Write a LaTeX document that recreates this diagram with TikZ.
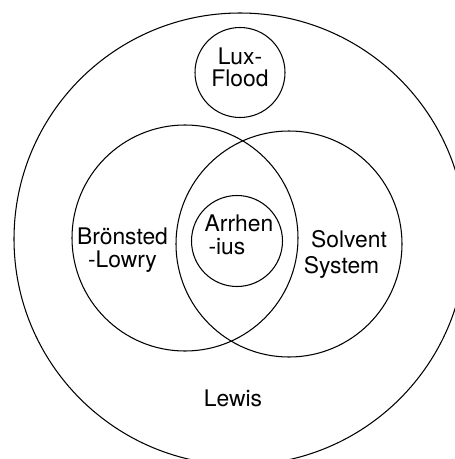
\documentclass[tikz,border=0pt]{standalone}
\usepackage{fontspec}
\setsansfont{TeX Gyre Heros}
\usepackage{tikz}

\begin{document}
\begin{tikzpicture}[line width=0.6pt,
  acid/.style={font=\sffamily\fontsize{13}{13}\selectfont, inner sep=0pt}]
\clip (0,0) rectangle (9.1,-9.18);
\draw (4.8,-4.78) circle (4.52);
\draw (4.8,-1.45) circle (0.9);
\draw (3.7,-4.76) circle (2.26);
\draw (5.78,-4.88) circle (2.26);
\draw (4.74,-4.82) circle (0.91);
\node[acid, align=center] (lux) at (4.8,-1.35) {Lux-\\[-0.5pt]Flood};
\node[acid, align=center] (bronsted) at (2.45,-5.01) {Brönsted\\-Lowry};
\node[acid, align=left] (arrhen) at (4.78,-4.69) {Arrhen\\\,-ius};
\node[acid, align=center] (solvent) at (6.83,-5.08) {\hspace{0.3cm}Solvent\\[1.8pt]System};
\node[acid] (lewis) at (4.66,-7.97) {Lewis};
\end{tikzpicture}
\end{document}
